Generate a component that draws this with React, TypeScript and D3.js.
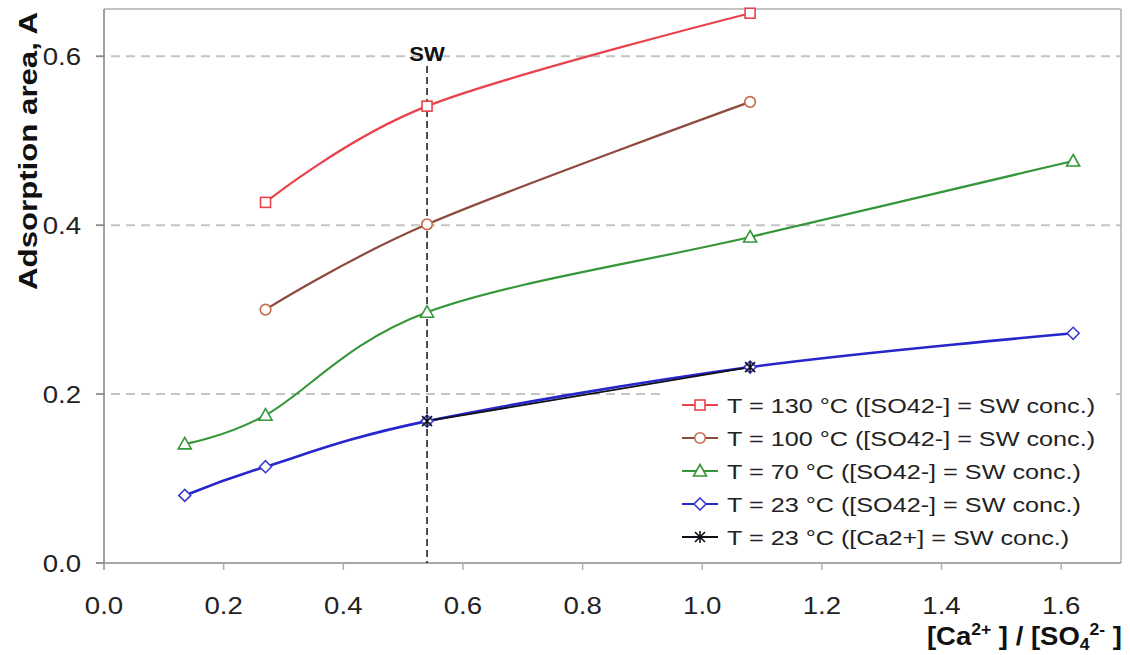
import React from "react";
import * as d3 from "d3";

// ---- data ----
const x130 = [0.27, 0.54, 1.08];
const y130 = [0.427, 0.541, 0.651];
const x100 = [0.27, 0.54, 1.08];
const y100 = [0.3, 0.401, 0.546];
const x70 = [0.135, 0.27, 0.54, 1.08, 1.62];
const y70 = [0.141, 0.175, 0.297, 0.386, 0.476];
const x23 = [0.135, 0.27, 0.54, 1.08, 1.62];
const y23 = [0.08, 0.114, 0.168, 0.232, 0.272];
const x23ca = [0.54, 1.08];
const y23ca = [0.168, 0.232];

const xTicks = [0, 0.2, 0.4, 0.6, 0.8, 1.0, 1.2, 1.4, 1.6];
const yTicks = [0, 0.2, 0.4, 0.6];
const gridTicks = [0.2, 0.4, 0.6];
const swRatio = 0.54;

const legendLabels = [
  "T = 130 °C ([SO42-] = SW conc.)",
  "T = 100 °C ([SO42-] = SW conc.)",
  "T = 70 °C ([SO42-] = SW conc.)",
  "T = 23 °C ([SO42-] = SW conc.)",
  "T = 23 °C ([Ca2+] = SW conc.)",
];

type Series = { xs: number[]; ys: number[]; color: string; mcolor: string; marker: string; label: string; lw: number };

const series: Series[] = [
  { xs: x130, ys: y130, color: "#e8434b", mcolor: "#e8434b", marker: "square", label: legendLabels[0], lw: 2.2 },
  { xs: x100, ys: y100, color: "#8f4a3e", mcolor: "#c46a48", marker: "circle", label: legendLabels[1], lw: 2.2 },
  { xs: x70, ys: y70, color: "#35963a", mcolor: "#35963a", marker: "triangle", label: legendLabels[2], lw: 2.2 },
  { xs: x23, ys: y23, color: "#2626cc", mcolor: "#3a3ad0", marker: "diamond", label: legendLabels[3], lw: 2.6 },
  { xs: x23ca, ys: y23ca, color: "#101018", mcolor: "#101018", marker: "star", label: legendLabels[4], lw: 1.8 },
];

const FONT = "'Liberation Sans', Arial, Helvetica, sans-serif";
const SX = 1.15; // horizontal text stretch seen in reference

function Marker({ type, cx, cy, color }: { type: string; cx: number; cy: number; color: string }) {
  const sw = 1.6;
  if (type === "square")
    return <rect x={cx - 5} y={cy - 5} width={10} height={10} fill="#fff" stroke={color} strokeWidth={sw} />;
  if (type === "circle") return <circle cx={cx} cy={cy} r={5.3} fill="#fff" stroke={color} strokeWidth={sw} />;
  if (type === "triangle")
    return (
      <path
        d={`M${cx},${cy - 6.5}L${cx + 6.5},${cy + 5}L${cx - 6.5},${cy + 5}Z`}
        fill="#fff"
        stroke={color}
        strokeWidth={sw}
      />
    );
  if (type === "diamond")
    return (
      <path
        d={`M${cx},${cy - 6}L${cx + 6},${cy}L${cx},${cy + 6}L${cx - 6},${cy}Z`}
        fill="#fff"
        stroke={color}
        strokeWidth={sw}
      />
    );
  // star (asterisk X with vertical bar)
  return (
    <path
      d={`M${cx - 5},${cy - 5}L${cx + 5},${cy + 5}M${cx - 5},${cy + 5}L${cx + 5},${cy - 5}M${cx},${cy - 6}L${cx},${cy + 6}`}
      stroke={color}
      strokeWidth={1.6}
      fill="none"
    />
  );
}

export default function App() {
  const W = 1130;
  const H = 655;
  const left = 104,
    right = 1121,
    top = 9,
    bottom = 563;
  const x = d3.scaleLinear().domain([0, 1.7]).range([left, right]);
  const y = d3.scaleLinear().domain([0, 0.656]).range([bottom, top]);
  const line = d3
    .line<[number, number]>()
    .x((d) => x(d[0]))
    .y((d) => y(d[1]))
    .curve(d3.curveCardinal.tension(0));

  const legX = 682;
  const legRows = [405, 438, 471, 504, 537];

  return (
    <svg width={W} height={H} style={{ position: "absolute", left: 0, top: 0, background: "#fff" }} fontFamily={FONT}>
      <rect x={0} y={0} width={W} height={H} fill="#fff" />
      {/* grid */}
      {gridTicks.map((t) => (
        <line key={t} x1={96} x2={right} y1={y(t)} y2={y(t)} stroke="#c4c4c4" strokeWidth={2} strokeDasharray="9,6" />
      ))}
      {/* frame */}
      <line x1={left} x2={right} y1={top} y2={top} stroke="#b0b0b0" strokeWidth={1.5} />
      <line x1={right} x2={right} y1={top} y2={bottom} stroke="#b0b0b0" strokeWidth={1.5} />
      <line x1={left} x2={left} y1={top} y2={bottom + 7} stroke="#8a8a8a" strokeWidth={1.6} />
      <line x1={96} x2={right} y1={bottom} y2={bottom} stroke="#8a8a8a" strokeWidth={1.6} />
      {/* ticks */}
      {xTicks.map((t) => (
        <line key={"xt" + t} x1={x(t)} x2={x(t)} y1={bottom} y2={bottom + 7} stroke="#b0b0b0" strokeWidth={1.5} />
      ))}
      {yTicks.map((t) => (
        <line key={"yt" + t} x1={96} x2={left} y1={y(t)} y2={y(t)} stroke="#8a8a8a" strokeWidth={1.5} />
      ))}
      {/* tick labels */}
      {xTicks.map((t) => (
        <g key={"xl" + t} transform={`translate(${x(t)},${614}) scale(${SX},1)`}>
          <text textAnchor="middle" fontSize={24} fill="#222">
            {t.toFixed(1)}
          </text>
        </g>
      ))}
      {yTicks.map((t) => (
        <g key={"yl" + t} transform={`translate(${81},${y(t) + 8.5}) scale(${SX},1)`}>
          <text textAnchor="end" fontSize={24} fill="#222">
            {t.toFixed(1)}
          </text>
        </g>
      ))}
      {/* axis titles */}
      <g transform={`translate(37,${151}) rotate(-90) scale(1.2,1)`}>
        <text textAnchor="middle" fontSize={26} fontWeight="bold" fill="#111">
          Adsorption area, A
        </text>
      </g>
      <g transform={`translate(1122,645) scale(1.1,1)`}>
        <text textAnchor="end" fontSize={25} fontWeight="bold" fill="#111">
          [Ca
          <tspan fontSize={16} dy={-10}>
            2+
          </tspan>
          <tspan dy={10}> ] / [SO</tspan>
          <tspan fontSize={16} dy={5}>
            4
          </tspan>
          <tspan fontSize={16} dy={-15}>
            2-
          </tspan>
          <tspan dy={10}> ]</tspan>
        </text>
      </g>
      {/* SW line */}
      <line x1={x(swRatio)} x2={x(swRatio)} y1={66} y2={bottom} stroke="#222" strokeWidth={1.6} strokeDasharray="7,4" />
      <g transform={`translate(${x(swRatio)},61) scale(1.05,1)`}>
        <text textAnchor="middle" fontSize={21} fontWeight="bold" fill="#111">
          SW
        </text>
      </g>
      {/* series lines */}
      {series.map((s, i) => (
        <path
          key={"l" + i}
          d={line(s.xs.map((v, j) => [v, s.ys[j]] as [number, number])) || ""}
          fill="none"
          stroke={s.color}
          strokeWidth={s.lw}
        />
      ))}
      {/* markers */}
      {series.map((s, i) =>
        s.xs.map((v, j) => <Marker key={"m" + i + "-" + j} type={s.marker} cx={x(v)} cy={y(s.ys[j])} color={s.mcolor} />)
      )}
      {/* legend */}
      <rect x={662} y={383} width={450} height={172} fill="#fff" />
      {series.map((s, i) => (
        <g key={"lg" + i}>
          <line x1={legX} x2={legX + 36} y1={legRows[i]} y2={legRows[i]} stroke={s.color} strokeWidth={2} />
          <Marker type={s.marker} cx={legX + 18} cy={legRows[i]} color={s.mcolor} />
          <g transform={`translate(${727},${legRows[i] + 7.5}) scale(1.2,1)`}>
            <text fontSize={21} fill="#222">
              {s.label}
            </text>
          </g>
        </g>
      ))}
    </svg>
  );
}
